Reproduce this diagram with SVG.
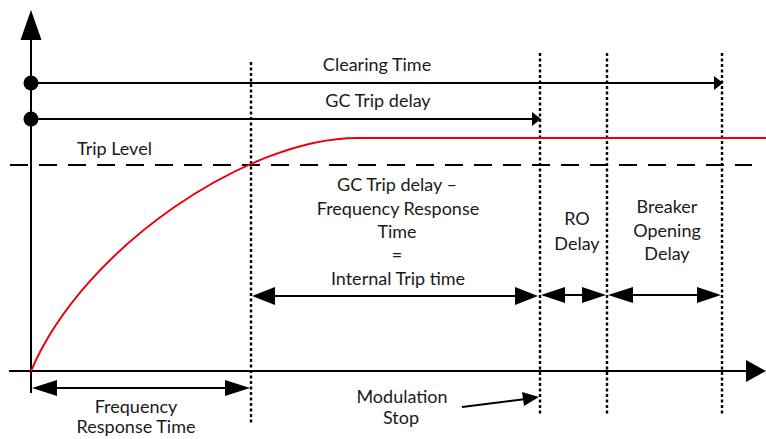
<svg xmlns="http://www.w3.org/2000/svg" width="766" height="439" viewBox="0 0 766 439">
<style>
text{font-family:Lato,"Liberation Sans",sans-serif;font-size:18px;fill:#1a1a1a;text-anchor:middle}
.ln{stroke:#000;stroke-width:2;fill:none}
.dot{stroke:#000;stroke-width:2.4;stroke-dasharray:3 2.5;fill:none}
.ah{fill:#000}
</style>
<rect width="766" height="439" fill="#fff"/>
<g id="axes">
<line class="ln" x1="31" y1="38" x2="31" y2="393"/>
<polygon class="ah" points="31,10 20.5,40 41.5,40"/>
<line class="ln" x1="9" y1="371" x2="750" y2="371"/>
<polygon class="ah" points="766,371 746,360 746,382"/>
</g>
<g id="guides">
<line class="dot" x1="251" y1="62" x2="251" y2="425"/>
<line class="dot" x1="540" y1="53" x2="540" y2="415"/>
<line class="dot" x1="607" y1="53" x2="607" y2="415"/>
<line class="dot" x1="722" y1="53" x2="722" y2="415"/>
<line x1="10" y1="165" x2="752" y2="165" stroke="#000" stroke-width="2" stroke-dasharray="18 11"/>
</g>
<g id="curve">
<path d="M31,371 C85,245 250,138 357,138 L766,138" fill="none" stroke="#e8000b" stroke-width="2"/>
</g>
<g id="connectors">
<circle cx="31" cy="83" r="7.5"/>
<line class="ln" x1="31" y1="83" x2="716" y2="83"/>
<polygon class="ah" points="723,83 714,76 714,90"/>
<circle cx="31" cy="119" r="7.5"/>
<line class="ln" x1="31" y1="119" x2="534" y2="119"/>
<polygon class="ah" points="541,119 532,112 532,126"/>
<line class="ln" x1="40" y1="388" x2="242" y2="388"/>
<polygon class="ah" points="32,388 57,380 57,396"/>
<polygon class="ah" points="250,388 225,380 225,396"/>
<line class="ln" x1="260" y1="296" x2="530" y2="296"/>
<polygon class="ah" points="252,296 275,287 275,305"/>
<polygon class="ah" points="538,296 515,287 515,305"/>
<line class="ln" x1="550" y1="295" x2="598" y2="295"/>
<polygon class="ah" points="541,295 565,287 565,303"/>
<polygon class="ah" points="606,295 582,287 582,303"/>
<line class="ln" x1="615" y1="295" x2="714" y2="295"/>
<polygon class="ah" points="608,295 633,287 633,303"/>
<polygon class="ah" points="721,295 697,287 697,303"/>
<line class="ln" x1="462" y1="407" x2="526" y2="399"/>
<polygon class="ah" points="539,397 522,392 524,406"/>
</g>
<g id="labels">
<text x="377" y="71">Clearing Time</text>
<text x="378" y="107">GC Trip delay</text>
<text x="77" y="155" style="text-anchor:start">Trip Level</text>
<text x="397" y="191">GC Trip delay –</text>
<text x="398" y="215">Frequency Response</text>
<text x="397" y="238">Time</text>
<text x="397" y="261">=</text>
<text x="398" y="285">Internal Trip time</text>
<text x="577" y="225">RO</text>
<text x="577" y="250">Delay</text>
<text x="667" y="213">Breaker</text>
<text x="667" y="237">Opening</text>
<text x="667" y="260">Delay</text>
<text x="136" y="413">Frequency</text>
<text x="136" y="433">Response Time</text>
<text x="402" y="403">Modulation</text>
<text x="401" y="424">Stop</text>
</g>
</svg>
